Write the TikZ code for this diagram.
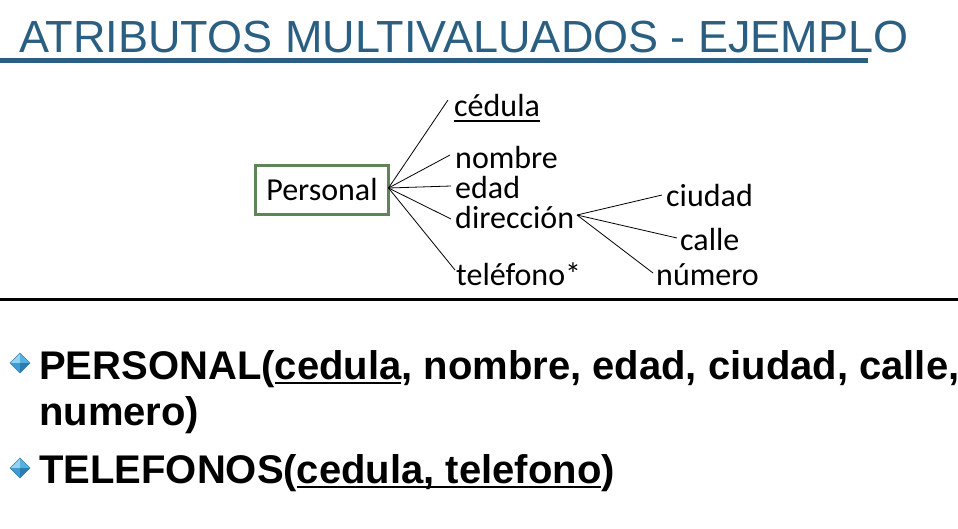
\documentclass[tikz,border=0pt]{standalone}
\usepackage{fontspec}
\setmainfont{Liberation Sans}
\newfontfamily\calib{Carlito}
\definecolor{titleblue}{HTML}{2B5F82}
\definecolor{boxgreen}{HTML}{5E8458}
\definecolor{gemA}{HTML}{93D2F0}
\definecolor{gemB}{HTML}{52B2E2}
\definecolor{gemC}{HTML}{3E9CD2}
\definecolor{gemD}{HTML}{2C7CB2}
\definecolor{gemE}{HTML}{3A7FAE}
\newcommand\ulx[3]{\setbox0\hbox{#1}\rlap{\rule[#2]{\wd0}{#3}}\box0}
\tikzset{
  gem/.pic={
    \fill[gemA] (0,0)--(-10,0)--(0,-10)--cycle;
    \fill[gemB] (0,0)--(0,-10)--(10,0)--cycle;
    \fill[gemC] (0,0)--(-10,0)--(0,10)--cycle;
    \fill[gemD] (0,0)--(10,0)--(0,10)--cycle;
    \draw[gemE,line width=0.6] (-10,0)--(0,-10)--(10,0)--(0,10)--cycle;
  },
  attr/.style={anchor=base west,inner sep=0,font=\calib\fontsize{32}{32}\selectfont},
  conn/.style={line width=0.8,black},
  rel/.style={anchor=base west,inner sep=0,font=\bfseries\fontsize{40}{40}\selectfont}
}
\begin{document}
\begin{tikzpicture}[x=1pt,y=-1pt]
\useasboundingbox[fill=white] (0,0) rectangle (958,528);
% title
\node[anchor=base west,inner sep=0,text=titleblue,font=\fontsize{45}{45}\selectfont] (title) at (19,52.7) {ATRIBUTOS MULTIVALUADOS - EJEMPLO};
\fill[titleblue] (0,58) rectangle (868,63);
% diagram
\node[draw=boxgreen,line width=2.4,minimum width=133,minimum height=49,inner sep=0,font=\calib\fontsize{32}{32}\selectfont] (pers) at (322,190) {Personal};
\node[attr] (ced) at (454,116.5) {\ulx{cédula}{-5.5pt}{2pt}};
\node[attr] (nom) at (455,168) {nombre};
\node[attr] (eda) at (455,198) {edad};
\node[attr] (dir) at (455,228) {dirección};
\node[attr] (tel) at (456,285) {teléfono*};
\node[attr] (ciu) at (666,206.5) {ciudad};
\node[attr] (cal) at (680,250.5) {calle};
\node[attr] (num) at (656,285) {número};
\coordinate (hub) at (388.5,188);
\coordinate (ced-e) at (448,100);
\coordinate (nom-e) at (450,155);
\coordinate (eda-e) at (451,186);
\coordinate (dir-e) at (451,219);
\coordinate (tel-e) at (455,270);
\coordinate (dhub) at (577,215);
\coordinate (ciu-e) at (662,195);
\coordinate (cal-e) at (677,238);
\coordinate (num-e) at (653,273);
\foreach \t in {ced-e,nom-e,eda-e,dir-e,tel-e} \draw[conn] (hub) -- (\t);
\foreach \t in {ciu-e,cal-e,num-e} \draw[conn] (dhub) -- (\t);
% separator
\fill[black] (0,297.5) rectangle (958,300.5);
% relations
\pic at (20,363) {gem};
\pic at (20,468) {gem};
\node[rel] (r1) at (39,379.3) {PERSONAL(\ulx{cedula}{-5pt}{2.5pt}, nombre, edad, ciudad, calle,};
\node[rel] (r1b) at (39,425) {numero)};
\node[rel] (r2) at (39,483) {TELEFONOS(\ulx{cedula, telefono}{-5pt}{2.5pt})};
\end{tikzpicture}
\end{document}
